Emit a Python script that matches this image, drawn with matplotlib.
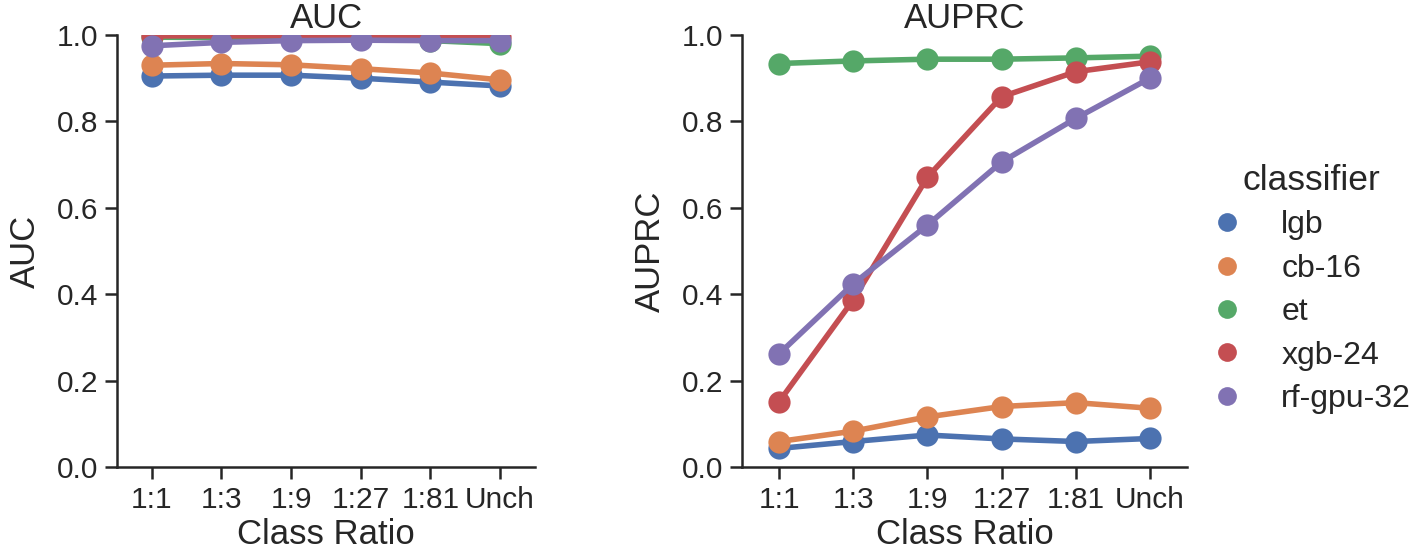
import matplotlib
matplotlib.use("Agg")
import matplotlib.pyplot as plt
from matplotlib.lines import Line2D

ratios = ["1:1", "1:3", "1:9", "1:27", "1:81", "Unch"]
classifiers = ["lgb", "cb-16", "et", "xgb-24", "rf-gpu-32"]
colors = ["#4C72B0", "#DD8452", "#55A868", "#C44E52", "#8172B3"]

auc_lgb = [0.905, 0.907, 0.907, 0.900, 0.891, 0.882]
auc_cb16 = [0.930, 0.934, 0.931, 0.922, 0.912, 0.896]
auc_et = [0.995, 0.994, 0.993, 0.991, 0.987, 0.980]
auc_xgb24 = [0.998, 0.998, 0.998, 0.998, 0.997, 0.996]
auc_rfgpu32 = [0.975, 0.983, 0.987, 0.988, 0.987, 0.987]

auprc_lgb = [0.043, 0.059, 0.074, 0.065, 0.059, 0.066]
auprc_cb16 = [0.059, 0.083, 0.116, 0.140, 0.149, 0.136]
auprc_et = [0.934, 0.940, 0.944, 0.944, 0.947, 0.951]
auprc_xgb24 = [0.151, 0.387, 0.671, 0.857, 0.915, 0.938]
auprc_rfgpu32 = [0.262, 0.424, 0.560, 0.706, 0.807, 0.900]

auc_series = [auc_lgb, auc_cb16, auc_et, auc_xgb24, auc_rfgpu32]
auprc_series = [auprc_lgb, auprc_cb16, auprc_et, auprc_xgb24, auprc_rfgpu32]

plt.rcParams['font.family'] = ['Liberation Sans', 'DejaVu Sans']
TXT = "#262626"

fig = plt.figure(figsize=(14.15, 5.54), dpi=100)
ax1 = fig.add_axes([117/1415, 1-467/554, 418/1415, 432/554])
ax2 = fig.add_axes([742/1415, 1-467/554, 445/1415, 432/554])

def draw(ax, series, title):
    x = list(range(len(ratios)))
    for vals, c in zip(series, colors):
        ax.plot(x, vals, color=c, lw=4, marker='o', ms=16, mec=c, mew=0)
    ax.set_xlim(-0.5, len(ratios)-0.5)
    ax.set_ylim(0, 1)
    ax.set_xticks(x)
    ax.set_xticklabels(ratios)
    ax.set_yticks([0.0, 0.2, 0.4, 0.6, 0.8, 1.0])
    ax.set_yticklabels(["0.0", "0.2", "0.4", "0.6", "0.8", "1.0"])
    for s in ["top", "right"]:
        ax.spines[s].set_visible(False)
    for s in ["left", "bottom"]:
        ax.spines[s].set_linewidth(1.8)
        ax.spines[s].set_color(TXT)
    ax.tick_params(axis='both', length=8.5, width=1.8, color=TXT,
                   labelsize=21.5, labelcolor=TXT, pad=5)
    ax.set_xlabel("Class Ratio", fontsize=25, color=TXT, labelpad=3)
    ax.set_ylabel(title, fontsize=25, color=TXT, labelpad=11)
    ax.set_title(title, fontsize=25, color=TXT, pad=4)

draw(ax1, auc_series, "AUC")
draw(ax2, auprc_series, "AUPRC")

handles = [Line2D([], [], ls='none', marker='o', ms=13.5, color=c, mew=0) for c in colors]
leg = fig.legend(handles, classifiers, title="classifier", loc="upper left",
                 bbox_to_anchor=(1211/1415, 1-164/554), frameon=False,
                 fontsize=23, title_fontsize=25.5, handlelength=1.0,
                 handletextpad=1.2, labelspacing=0.42, borderpad=0,
                 borderaxespad=0)
for t in leg.get_texts():
    t.set_color(TXT)
leg.get_title().set_color(TXT)

fig.savefig("out.png", dpi=100)
